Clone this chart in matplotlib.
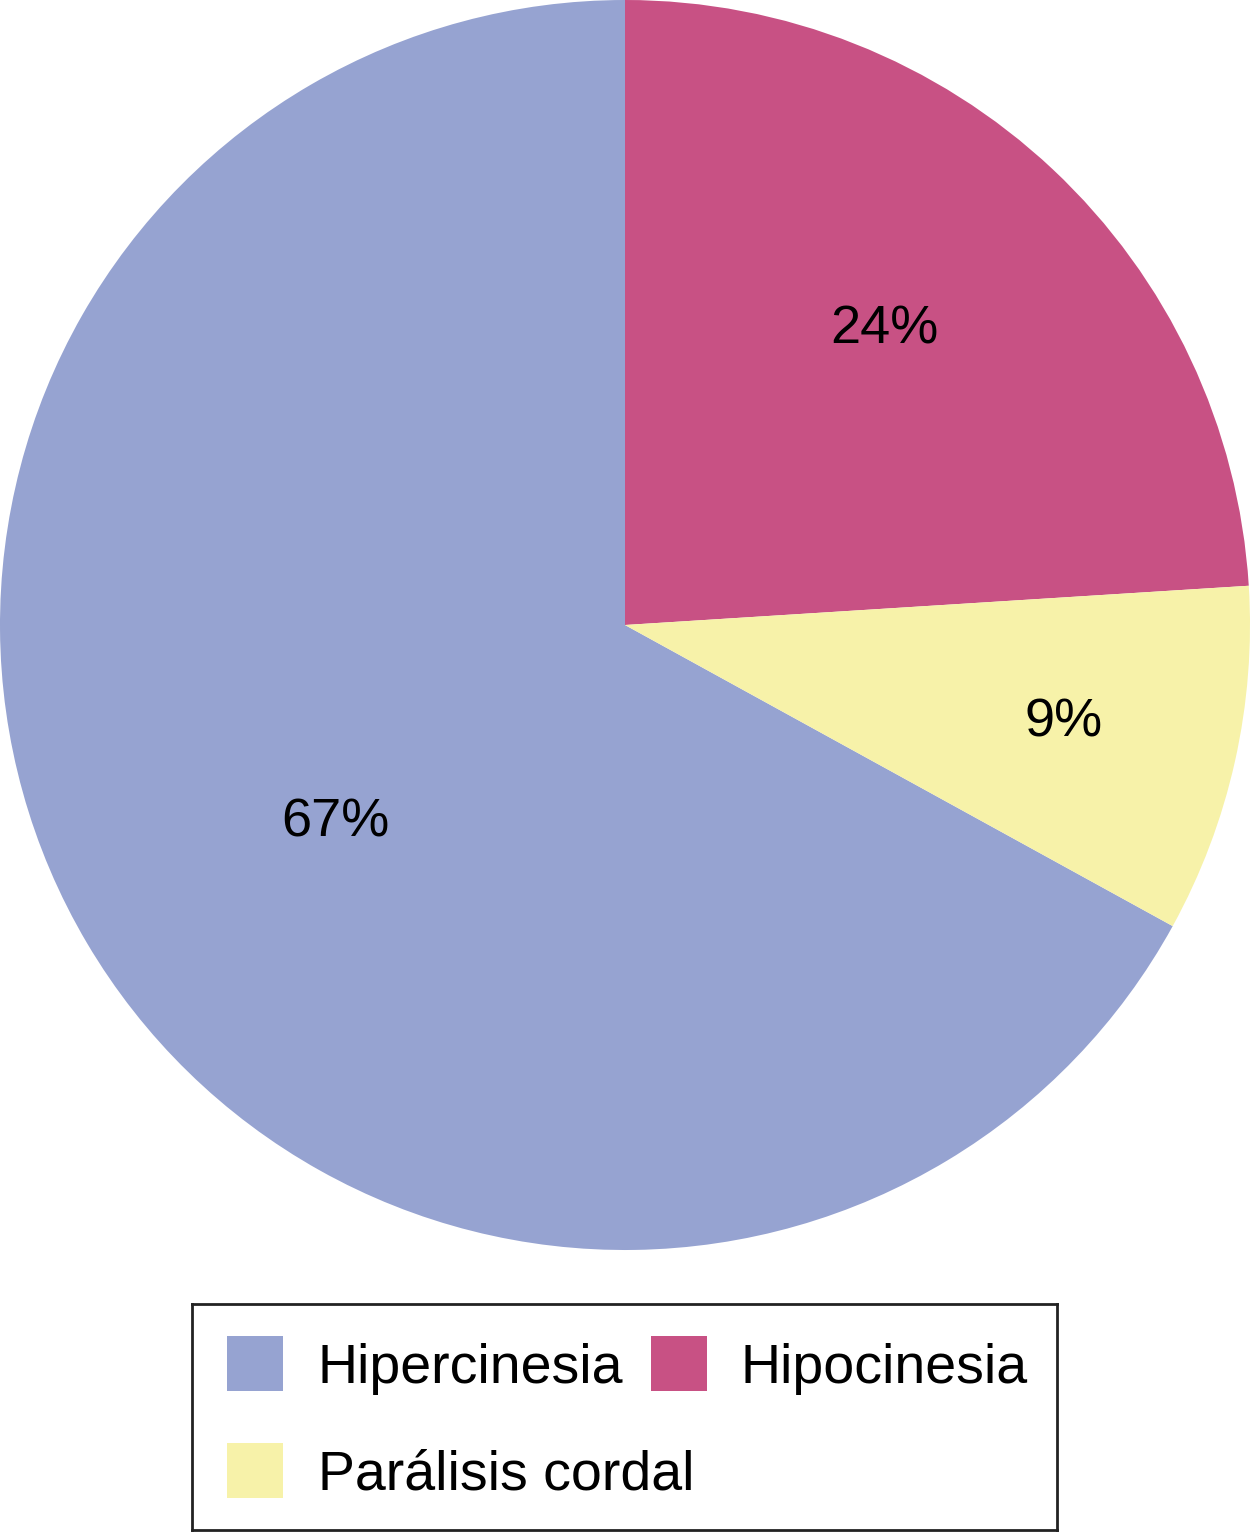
import numpy as np
import matplotlib
matplotlib.use("Agg")
import matplotlib.pyplot as plt
from matplotlib.patches import Rectangle

plt.rcParams['font.family'] = ['Liberation Sans', 'DejaVu Sans']

# data
categories = ["Hipercinesia", "Hipocinesia", "Parálisis cordal"]
values = [67, 24, 9]
colors = ["#96A3D1", "#C85184", "#F7F2A9"]
pct_labels = ["67%", "24%", "9%"]
# where the % labels sit inside each wedge (radius fraction, angle nudge in deg)
label_dist = [0.560, 0.629, 0.719]
label_nudge = [3.7, 2.0, 0.1]

W, H = 1250, 1532
fig = plt.figure(figsize=(W / 100, H / 100), dpi=100)
fig.patch.set_facecolor("white")

# pie area: square at the top of the figure
ax = fig.add_axes([0, 1 - 1250 / H, 1, 1250 / H])
start = 90 + 360 * values[0] / sum(values)  # so Hipocinesia begins at 12 o'clock
wedges, _ = ax.pie(values, colors=colors, startangle=start, counterclock=False,
                   radius=1.0, wedgeprops=dict(linewidth=0))
ax.set_xlim(-1, 1)
ax.set_ylim(-1, 1)
ax.set_aspect("equal")
ax.axis("off")

for w, lab, d, nd in zip(wedges, pct_labels, label_dist, label_nudge):
    ang = np.deg2rad((w.theta1 + w.theta2) / 2 + nd)
    ax.text(d * np.cos(ang), d * np.sin(ang), lab, ha="center", va="center",
            fontsize=39, color="black")

# legend drawn by hand (row-major layout like the original)
lx0, ly0, lw, lh = 192, 1304, 865, 226
lg = fig.add_axes([lx0 / W, (H - ly0 - lh) / H, lw / W, lh / H])
lg.set_xlim(0, lw)
lg.set_ylim(lh, 0)
lg.set_xticks([])
lg.set_yticks([])
for s in lg.spines.values():
    s.set_linewidth(2)
    s.set_color("#222222")

sq = 55
slots = [(35, 32, 126), (459, 32, 549), (35, 139, 126)]
for (sx, sy, tx), cat, col in zip(slots, categories, colors):
    lg.add_patch(Rectangle((sx, sy), sq + 1, sq, facecolor=col, edgecolor="none"))
    lg.text(tx, sy + 47, cat, ha="left", va="baseline", fontsize=40, color="black")

fig.savefig("out.png", dpi=100, facecolor="white")
